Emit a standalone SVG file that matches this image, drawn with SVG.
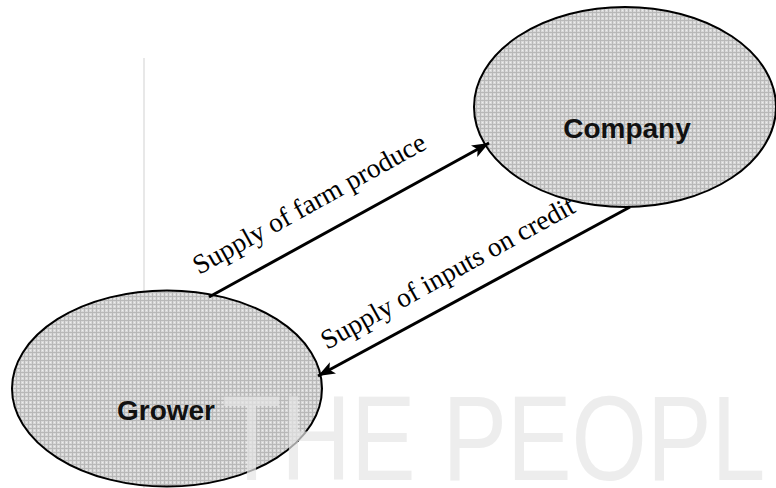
<svg xmlns="http://www.w3.org/2000/svg" width="776" height="488" viewBox="0 0 776 488">
  <defs>
    <pattern id="dots" width="4" height="4" patternUnits="userSpaceOnUse">
      <rect width="4" height="4" fill="#d8d8d8"/>
      <rect x="0" y="0" width="4" height="1" fill="#b8b8b8"/>
      <rect x="0" y="0" width="1" height="4" fill="#b8b8b8"/>
      <rect x="2" y="2" width="1" height="1" fill="#eeeeee"/>
    </pattern>
    <marker id="arrow" markerUnits="userSpaceOnUse" markerWidth="18" markerHeight="14" refX="17" refY="7" orient="auto">
      <path d="M0,0.5 L17,7 L0,13.5 L4,7 Z" fill="#000"/>
    </marker>
  </defs>
  <style>
    .node { fill: url(#dots); stroke: #000; stroke-width: 2; }
    .nlabel { font-family: "Liberation Sans", Arial, sans-serif; font-weight: bold; font-size: 28px; fill: #111; text-anchor: middle; }
    .edge { stroke: #000; stroke-width: 3; fill: none; marker-end: url(#arrow); }
    .elabel { font-family: "Liberation Serif", "Times New Roman", serif; font-size: 27.5px; fill: #000; }
    .wm { font-family: "Liberation Sans", Arial, sans-serif; fill: #e6e6e6; opacity: 0.7; }
  </style>
  <rect width="776" height="488" fill="#fff"/>
  <line x1="144" y1="58" x2="144" y2="488" stroke="#e8e8e8" stroke-width="2"/>
  <g id="company">
    <ellipse class="node" cx="625" cy="107" rx="151" ry="100"/>
    <text class="nlabel" x="627" y="138">Company</text>
  </g>
  <g id="grower">
    <ellipse class="node" cx="167" cy="388.5" rx="155" ry="98"/>
    <text class="nlabel" x="166" y="420">Grower</text>
  </g>
  <g id="connectors">
    <line class="edge" x1="209" y1="297" x2="489" y2="143"/>
    <line class="edge" x1="630" y1="207" x2="318" y2="376"/>
    <text class="elabel" transform="translate(199,275) rotate(-29)">Supply of farm produce</text>
    <text class="elabel" transform="translate(327,350) rotate(-29)">Supply of inputs on credit</text>
  </g>
  <g id="watermark">
    <text class="wm" transform="scale(0.8,1)" x="277.5" y="480" font-size="121">THE PEOPL</text>
  </g>
</svg>
